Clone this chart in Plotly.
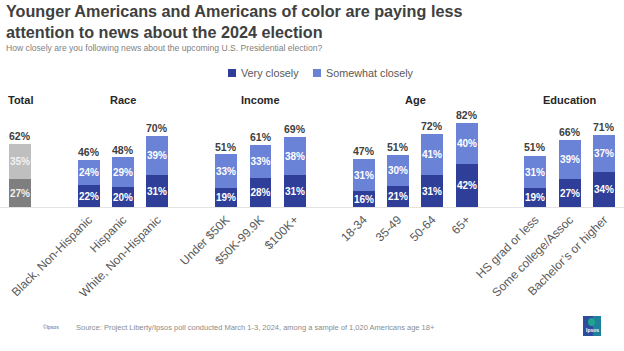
import plotly.graph_objects as go

# ---- data ----
groups = ["Total", "Race", "Income", "Age", "Education"]
group_categories = [
    ["Total"],
    ["Black, Non-Hispanic", "Hispanic", "White, Non-Hispanic"],
    ["Under $50K", "$50K-99.9K", "$100K+"],
    ["18-34", "35-49", "50-64", "65+"],
    ["HS grad or less", "Some college/Assoc", "Bachelor\u2019s or higher"],
]
very_closely = [27, 22, 20, 31, 19, 28, 31, 16, 21, 31, 42, 19, 27, 34]
somewhat_closely = [35, 24, 29, 39, 33, 33, 38, 31, 30, 41, 40, 31, 39, 37]
totals = [62, 46, 48, 70, 51, 61, 69, 47, 51, 72, 82, 51, 66, 71]
series_names = ["Very closely", "Somewhat closely"]

# ---- layout helpers: positions (one empty slot between groups) ----
categories, positions, bar_group, group_centers = [], [], [], []
p = 0
for g, cats in zip(groups, group_categories):
    start = p
    for c in cats:
        categories.append(c)
        positions.append(p)
        bar_group.append(g)
        p += 1
    group_centers.append((start + p - 1) / 2)
    p += 1

DARK_BLUE = "#2F3F99"
LIGHT_BLUE = "#6B83D7"
DARK_GRAY = "#7F7F7F"
LIGHT_GRAY = "#BFBFBF"
FONT = "Liberation Sans, Arial, sans-serif"
PX_TOP, PX_BASE = 105, 207          # plot area top / baseline in pixels
PX_H = PX_BASE - PX_TOP


def py(px):
    """pixel row -> paper y"""
    return (PX_BASE - px) / PX_H


def px_x(px):
    return px / 624


fig = go.Figure()
series = [very_closely, somewhat_closely]
for is_total in (True, False):
    idx = [i for i, g in enumerate(bar_group) if (g == "Total") == is_total]
    cols = [DARK_GRAY, LIGHT_GRAY] if is_total else [DARK_BLUE, LIGHT_BLUE]
    tcol = "#F2F2F2" if is_total else "white"
    for vals, col, name in zip(series, cols, series_names):
        fig.add_trace(go.Bar(
            name=name, x=[positions[i] for i in idx], y=[vals[i] for i in idx],
            width=0.64, marker=dict(color=col, line=dict(width=0)),
            text=[f"{vals[i]}%" for i in idx], textposition="inside",
            insidetextanchor="middle", textangle=0, constraintext="none",
            insidetextfont=dict(family=FONT, size=10, color=tcol, weight="bold"),
            hoverinfo="skip", showlegend=False,
        ))

annotations = []
for x, t in zip(positions, totals):
    annotations.append(dict(
        x=x, y=t, xref="x", yref="y", text=f"{t}%", showarrow=False,
        yanchor="bottom", font=dict(family=FONT, size=10.5, color="#404040", weight="bold"),
    ))
for g, xc in zip(groups, group_centers):
    annotations.append(dict(
        x=xc, y=py(100), xref="x", yref="paper", text=f"<b>{g}</b>", showarrow=False,
        yanchor="middle", font=dict(family=FONT, size=11, color="#262626"),
    ))

# title & subtitle
annotations.append(dict(
    x=px_x(4), y=py(0), xref="paper", yref="paper", xanchor="left", yanchor="top",
    align="left",
    text="<b>Younger Americans and Americans of color are paying less<br>attention to news about the 2024 election</b>",
    showarrow=False, font=dict(family=FONT, size=16.2, color="#404040"),
))
annotations.append(dict(
    x=px_x(4), y=py(48), xref="paper", yref="paper", xanchor="left", yanchor="middle",
    text="How closely are you following news about the upcoming U.S. Presidential election?",
    showarrow=False, font=dict(family=FONT, size=8.6, color="#7F7F7F"),
))

# legend (manual, matching reference spacing)
shapes = []
legend_items = [(series_names[0], DARK_BLUE, 228), (series_names[1], LIGHT_BLUE, 313)]
for name, col, x0 in legend_items:
    shapes.append(dict(type="rect", xref="paper", yref="paper",
                       x0=px_x(x0), x1=px_x(x0 + 8), y0=py(77), y1=py(69),
                       fillcolor=col, line=dict(width=0)))
    annotations.append(dict(
        x=px_x(x0 + 11), y=py(73), xref="paper", yref="paper", xanchor="left",
        yanchor="middle", text=name, showarrow=False,
        font=dict(family=FONT, size=10.8, color="#595959"),
    ))

# footer
annotations.append(dict(
    x=px_x(74), y=py(327), xref="paper", yref="paper", xanchor="left", yanchor="middle",
    text="Source: Project Liberty/Ipsos poll conducted March 1-3, 2024, among a sample of 1,020 Americans age 18+",
    showarrow=False, font=dict(family=FONT, size=7.5, color="#8C8C8C"),
))
annotations.append(dict(
    x=px_x(41), y=py(327), xref="paper", yref="paper", xanchor="left", yanchor="middle",
    text="\u00a9Ipsos", showarrow=False, font=dict(family=FONT, size=5, color="#4F6A9A"),
))
annotations.append(dict(
    x=px_x(592), y=py(330), xref="paper", yref="paper", xanchor="center", yanchor="middle",
    text="<b>Ipsos</b>", showarrow=False, font=dict(family=FONT, size=5, color="white"),
))
shapes += [
    dict(type="rect", xref="paper", yref="paper", x0=px_x(583), x1=px_x(601),
         y0=py(336), y1=py(316), fillcolor="#2C4C9E", line=dict(width=0), layer="above"),
    dict(type="rect", xref="paper", yref="paper", x0=px_x(593), x1=px_x(601),
         y0=py(336), y1=py(316), fillcolor="#1B8F9A", line=dict(width=0), layer="above",
         opacity=0.8),
    dict(type="circle", xref="paper", yref="paper", x0=px_x(588), x1=px_x(595),
         y0=py(326), y1=py(318), fillcolor="#1FA58E", line=dict(width=0), layer="above"),
]

fig.update_layout(
    width=624, height=351,
    barmode="stack",
    plot_bgcolor="white", paper_bgcolor="white",
    margin=dict(l=0, r=0, t=PX_TOP, b=351 - PX_BASE),
    showlegend=False,
    xaxis=dict(
        range=[-0.582, 17.58], tickmode="array", tickvals=positions, ticktext=categories,
        tickangle=-45, tickfont=dict(family=FONT, size=12, color="#595959"),
        showgrid=False, zeroline=False, showline=True, linecolor="#E3E3E3", linewidth=1,
        ticks="",
    ),
    yaxis=dict(range=[0, 100], visible=False, showgrid=False, zeroline=False),
    annotations=annotations,
    shapes=shapes,
    bargap=0,
)

fig.write_html("out.html")
